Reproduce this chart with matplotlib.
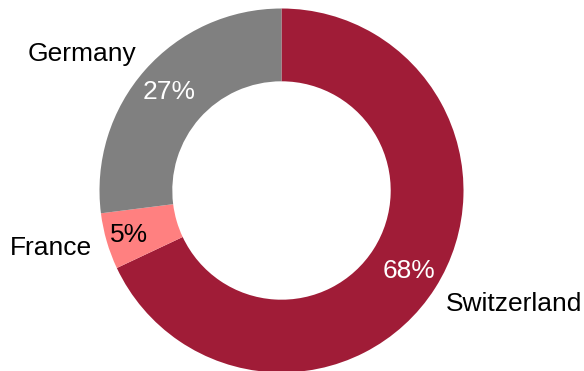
import numpy as np
import matplotlib
matplotlib.use("Agg")
import matplotlib.pyplot as plt

plt.rcParams['font.family'] = ['Liberation Sans', 'DejaVu Sans']

countries = ["Switzerland", "France", "Germany"]
shares = [68, 5, 27]
colors = ["#A01C37", "#FF8080", "#808080"]
pct_colors = ["white", "black", "white"]

# where each country name sits, in units of the outer radius
label_xy = [(0.904, -0.624), (-1.041, -0.316), (-0.80, 0.75)]
# how far out each percentage sits
pct_radius = [0.83, 0.87, 0.82]

fig = plt.figure(figsize=(5.84, 3.71), dpi=100)
ax = fig.add_axes([0, 0, 1, 1])

wedges, texts, autotexts = ax.pie(
    shares,
    labels=countries,
    colors=colors,
    startangle=90,
    counterclock=False,
    wedgeprops=dict(width=0.4, linewidth=0),
    labeldistance=1.1,
    autopct="%d%%",
    pctdistance=0.81,
    textprops=dict(fontsize=19),
)

for w, t, at, c, xy, r in zip(wedges, texts, autotexts, pct_colors, label_xy, pct_radius):
    at.set_color(c)
    mid = np.deg2rad((w.theta1 + w.theta2) / 2)
    at.set_position((r * np.cos(mid), r * np.sin(mid)))
    t.set_position(xy)

ax.set_aspect('auto')
ax.set_xlim(-281.5 / 182, (584 - 281.5) / 182)
ax.set_ylim(-(371 - 190.5) / 182, 190.5 / 182)
ax.axis('off')

fig.savefig("out.png", dpi=100)
